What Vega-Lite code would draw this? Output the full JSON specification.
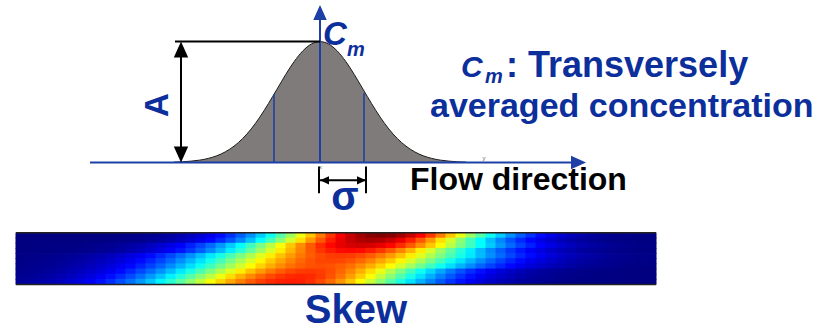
{
  "$schema": "https://vega.github.io/schema/vega-lite/v6.json",
  "width": 829,
  "height": 331,
  "autosize": {"type": "fit", "contains": "padding"},
  "padding": 0,
  "background": "white",
  "config": {"view": {"stroke": null}},
  "datasets": {
    "heat": [
      {"x":-29.9,"y":-7.36,"c":0},{"x":-28.9,"y":-7.36,"c":0},{"x":-27.9,"y":-7.36,"c":0},{"x":-26.9,"y":-7.36,"c":0},{"x":-25.9,"y":-7.36,"c":0},{"x":-24.9,"y":-7.36,"c":0},{"x":-23.9,"y":-7.36,"c":0.001},{"x":-22.9,"y":-7.36,"c":0.001},{"x":-21.9,"y":-7.36,"c":0.002},{"x":-20.9,"y":-7.36,"c":0.003},{"x":-19.9,"y":-7.36,"c":0.005},{"x":-18.9,"y":-7.36,"c":0.008},{"x":-17.9,"y":-7.36,"c":0.011},{"x":-16.9,"y":-7.36,"c":0.016},{"x":-15.9,"y":-7.36,"c":0.023},{"x":-14.9,"y":-7.36,"c":0.032},{"x":-13.9,"y":-7.36,"c":0.044},{"x":-12.9,"y":-7.36,"c":0.06},{"x":-11.9,"y":-7.36,"c":0.08},{"x":-10.9,"y":-7.36,"c":0.105},{"x":-9.9,"y":-7.36,"c":0.135},{"x":-8.9,"y":-7.36,"c":0.172},{"x":-7.9,"y":-7.36,"c":0.216},{"x":-6.9,"y":-7.36,"c":0.267},{"x":-5.9,"y":-7.36,"c":0.325},{"x":-4.9,"y":-7.36,"c":0.389},{"x":-3.9,"y":-7.36,"c":0.458},{"x":-2.9,"y":-7.36,"c":0.531},{"x":-1.9,"y":-7.36,"c":0.607},{"x":-0.9,"y":-7.36,"c":0.682},{"x":0.1,"y":-7.36,"c":0.755},{"x":1.1,"y":-7.36,"c":0.823},{"x":2.1,"y":-7.36,"c":0.882},{"x":3.1,"y":-7.36,"c":0.932},{"x":4.1,"y":-7.36,"c":0.969},{"x":5.1,"y":-7.36,"c":0.992},{"x":6.1,"y":-7.36,"c":1},{"x":7.1,"y":-7.36,"c":0.992},{"x":8.1,"y":-7.36,"c":0.969},{"x":9.1,"y":-7.36,"c":0.932},{"x":10.1,"y":-7.36,"c":0.882},{"x":11.1,"y":-7.36,"c":0.823},{"x":12.1,"y":-7.36,"c":0.755},{"x":13.1,"y":-7.36,"c":0.682},{"x":14.1,"y":-7.36,"c":0.607},{"x":15.1,"y":-7.36,"c":0.531},{"x":16.1,"y":-7.36,"c":0.458},{"x":17.1,"y":-7.36,"c":0.389},{"x":18.1,"y":-7.36,"c":0.325},{"x":19.1,"y":-7.36,"c":0.267},{"x":20.1,"y":-7.36,"c":0.216},{"x":21.1,"y":-7.36,"c":0.172},{"x":22.1,"y":-7.36,"c":0.135},{"x":23.1,"y":-7.36,"c":0.105},{"x":24.1,"y":-7.36,"c":0.08},{"x":25.1,"y":-7.36,"c":0.06},{"x":26.1,"y":-7.36,"c":0.044},{"x":27.1,"y":-7.36,"c":0.032},{"x":28.1,"y":-7.36,"c":0.023},{"x":29.1,"y":-7.36,"c":0.016},{"x":30.1,"y":-7.36,"c":0.011},{"x":31.1,"y":-7.36,"c":0.008},{"x":32.1,"y":-7.36,"c":0.005},{"x":33.1,"y":-7.36,"c":0.003},
      {"x":-29.9,"y":-7.88,"c":0},{"x":-28.9,"y":-7.88,"c":0},{"x":-27.9,"y":-7.88,"c":0},{"x":-26.9,"y":-7.88,"c":0},{"x":-25.9,"y":-7.88,"c":0},{"x":-24.9,"y":-7.88,"c":0.001},{"x":-23.9,"y":-7.88,"c":0.001},{"x":-22.9,"y":-7.88,"c":0.002},{"x":-21.9,"y":-7.88,"c":0.003},{"x":-20.9,"y":-7.88,"c":0.005},{"x":-19.9,"y":-7.88,"c":0.008},{"x":-18.9,"y":-7.88,"c":0.011},{"x":-17.9,"y":-7.88,"c":0.015},{"x":-16.9,"y":-7.88,"c":0.022},{"x":-15.9,"y":-7.88,"c":0.031},{"x":-14.9,"y":-7.88,"c":0.042},{"x":-13.9,"y":-7.88,"c":0.058},{"x":-12.9,"y":-7.88,"c":0.077},{"x":-11.9,"y":-7.88,"c":0.101},{"x":-10.9,"y":-7.88,"c":0.13},{"x":-9.9,"y":-7.88,"c":0.165},{"x":-8.9,"y":-7.88,"c":0.207},{"x":-7.9,"y":-7.88,"c":0.256},{"x":-6.9,"y":-7.88,"c":0.312},{"x":-5.9,"y":-7.88,"c":0.373},{"x":-4.9,"y":-7.88,"c":0.44},{"x":-3.9,"y":-7.88,"c":0.51},{"x":-2.9,"y":-7.88,"c":0.583},{"x":-1.9,"y":-7.88,"c":0.655},{"x":-0.9,"y":-7.88,"c":0.725},{"x":0.1,"y":-7.88,"c":0.79},{"x":1.1,"y":-7.88,"c":0.847},{"x":2.1,"y":-7.88,"c":0.895},{"x":3.1,"y":-7.88,"c":0.93},{"x":4.1,"y":-7.88,"c":0.952},{"x":5.1,"y":-7.88,"c":0.96},{"x":6.1,"y":-7.88,"c":0.952},{"x":7.1,"y":-7.88,"c":0.93},{"x":8.1,"y":-7.88,"c":0.895},{"x":9.1,"y":-7.88,"c":0.847},{"x":10.1,"y":-7.88,"c":0.79},{"x":11.1,"y":-7.88,"c":0.725},{"x":12.1,"y":-7.88,"c":0.655},{"x":13.1,"y":-7.88,"c":0.583},{"x":14.1,"y":-7.88,"c":0.51},{"x":15.1,"y":-7.88,"c":0.44},{"x":16.1,"y":-7.88,"c":0.373},{"x":17.1,"y":-7.88,"c":0.312},{"x":18.1,"y":-7.88,"c":0.256},{"x":19.1,"y":-7.88,"c":0.207},{"x":20.1,"y":-7.88,"c":0.165},{"x":21.1,"y":-7.88,"c":0.13},{"x":22.1,"y":-7.88,"c":0.101},{"x":23.1,"y":-7.88,"c":0.077},{"x":24.1,"y":-7.88,"c":0.058},{"x":25.1,"y":-7.88,"c":0.042},{"x":26.1,"y":-7.88,"c":0.031},{"x":27.1,"y":-7.88,"c":0.022},{"x":28.1,"y":-7.88,"c":0.015},{"x":29.1,"y":-7.88,"c":0.011},{"x":30.1,"y":-7.88,"c":0.008},{"x":31.1,"y":-7.88,"c":0.005},{"x":32.1,"y":-7.88,"c":0.003},{"x":33.1,"y":-7.88,"c":0.002},
      {"x":-29.9,"y":-8.4,"c":0},{"x":-28.9,"y":-8.4,"c":0.001},{"x":-27.9,"y":-8.4,"c":0.002},{"x":-26.9,"y":-8.4,"c":0.002},{"x":-25.9,"y":-8.4,"c":0.004},{"x":-24.9,"y":-8.4,"c":0.005},{"x":-23.9,"y":-8.4,"c":0.007},{"x":-22.9,"y":-8.4,"c":0.01},{"x":-21.9,"y":-8.4,"c":0.014},{"x":-20.9,"y":-8.4,"c":0.019},{"x":-19.9,"y":-8.4,"c":0.027},{"x":-18.9,"y":-8.4,"c":0.035},{"x":-17.9,"y":-8.4,"c":0.046},{"x":-16.9,"y":-8.4,"c":0.061},{"x":-15.9,"y":-8.4,"c":0.078},{"x":-14.9,"y":-8.4,"c":0.099},{"x":-13.9,"y":-8.4,"c":0.124},{"x":-12.9,"y":-8.4,"c":0.155},{"x":-11.9,"y":-8.4,"c":0.19},{"x":-10.9,"y":-8.4,"c":0.229},{"x":-9.9,"y":-8.4,"c":0.274},{"x":-8.9,"y":-8.4,"c":0.324},{"x":-7.9,"y":-8.4,"c":0.378},{"x":-6.9,"y":-8.4,"c":0.436},{"x":-5.9,"y":-8.4,"c":0.496},{"x":-4.9,"y":-8.4,"c":0.558},{"x":-3.9,"y":-8.4,"c":0.62},{"x":-2.9,"y":-8.4,"c":0.68},{"x":-1.9,"y":-8.4,"c":0.737},{"x":-0.9,"y":-8.4,"c":0.788},{"x":0.1,"y":-8.4,"c":0.834},{"x":1.1,"y":-8.4,"c":0.87},{"x":2.1,"y":-8.4,"c":0.898},{"x":3.1,"y":-8.4,"c":0.914},{"x":4.1,"y":-8.4,"c":0.92},{"x":5.1,"y":-8.4,"c":0.914},{"x":6.1,"y":-8.4,"c":0.898},{"x":7.1,"y":-8.4,"c":0.87},{"x":8.1,"y":-8.4,"c":0.834},{"x":9.1,"y":-8.4,"c":0.788},{"x":10.1,"y":-8.4,"c":0.737},{"x":11.1,"y":-8.4,"c":0.68},{"x":12.1,"y":-8.4,"c":0.62},{"x":13.1,"y":-8.4,"c":0.558},{"x":14.1,"y":-8.4,"c":0.496},{"x":15.1,"y":-8.4,"c":0.436},{"x":16.1,"y":-8.4,"c":0.378},{"x":17.1,"y":-8.4,"c":0.324},{"x":18.1,"y":-8.4,"c":0.274},{"x":19.1,"y":-8.4,"c":0.229},{"x":20.1,"y":-8.4,"c":0.19},{"x":21.1,"y":-8.4,"c":0.155},{"x":22.1,"y":-8.4,"c":0.124},{"x":23.1,"y":-8.4,"c":0.099},{"x":24.1,"y":-8.4,"c":0.078},{"x":25.1,"y":-8.4,"c":0.061},{"x":26.1,"y":-8.4,"c":0.046},{"x":27.1,"y":-8.4,"c":0.035},{"x":28.1,"y":-8.4,"c":0.027},{"x":29.1,"y":-8.4,"c":0.019},{"x":30.1,"y":-8.4,"c":0.014},{"x":31.1,"y":-8.4,"c":0.01},{"x":32.1,"y":-8.4,"c":0.007},{"x":33.1,"y":-8.4,"c":0.005},
      {"x":-29.9,"y":-8.92,"c":0.001},{"x":-28.9,"y":-8.92,"c":0.002},{"x":-27.9,"y":-8.92,"c":0.002},{"x":-26.9,"y":-8.92,"c":0.003},{"x":-25.9,"y":-8.92,"c":0.005},{"x":-24.9,"y":-8.92,"c":0.007},{"x":-23.9,"y":-8.92,"c":0.01},{"x":-22.9,"y":-8.92,"c":0.013},{"x":-21.9,"y":-8.92,"c":0.018},{"x":-20.9,"y":-8.92,"c":0.025},{"x":-19.9,"y":-8.92,"c":0.033},{"x":-18.9,"y":-8.92,"c":0.044},{"x":-17.9,"y":-8.92,"c":0.057},{"x":-16.9,"y":-8.92,"c":0.074},{"x":-15.9,"y":-8.92,"c":0.094},{"x":-14.9,"y":-8.92,"c":0.117},{"x":-13.9,"y":-8.92,"c":0.146},{"x":-12.9,"y":-8.92,"c":0.179},{"x":-11.9,"y":-8.92,"c":0.217},{"x":-10.9,"y":-8.92,"c":0.259},{"x":-9.9,"y":-8.92,"c":0.306},{"x":-8.9,"y":-8.92,"c":0.358},{"x":-7.9,"y":-8.92,"c":0.412},{"x":-6.9,"y":-8.92,"c":0.469},{"x":-5.9,"y":-8.92,"c":0.528},{"x":-4.9,"y":-8.92,"c":0.586},{"x":-3.9,"y":-8.92,"c":0.643},{"x":-2.9,"y":-8.92,"c":0.697},{"x":-1.9,"y":-8.92,"c":0.746},{"x":-0.9,"y":-8.92,"c":0.788},{"x":0.1,"y":-8.92,"c":0.823},{"x":1.1,"y":-8.92,"c":0.849},{"x":2.1,"y":-8.92,"c":0.865},{"x":3.1,"y":-8.92,"c":0.87},{"x":4.1,"y":-8.92,"c":0.865},{"x":5.1,"y":-8.92,"c":0.849},{"x":6.1,"y":-8.92,"c":0.823},{"x":7.1,"y":-8.92,"c":0.788},{"x":8.1,"y":-8.92,"c":0.746},{"x":9.1,"y":-8.92,"c":0.697},{"x":10.1,"y":-8.92,"c":0.643},{"x":11.1,"y":-8.92,"c":0.586},{"x":12.1,"y":-8.92,"c":0.528},{"x":13.1,"y":-8.92,"c":0.469},{"x":14.1,"y":-8.92,"c":0.412},{"x":15.1,"y":-8.92,"c":0.358},{"x":16.1,"y":-8.92,"c":0.306},{"x":17.1,"y":-8.92,"c":0.259},{"x":18.1,"y":-8.92,"c":0.217},{"x":19.1,"y":-8.92,"c":0.179},{"x":20.1,"y":-8.92,"c":0.146},{"x":21.1,"y":-8.92,"c":0.117},{"x":22.1,"y":-8.92,"c":0.094},{"x":23.1,"y":-8.92,"c":0.074},{"x":24.1,"y":-8.92,"c":0.057},{"x":25.1,"y":-8.92,"c":0.044},{"x":26.1,"y":-8.92,"c":0.033},{"x":27.1,"y":-8.92,"c":0.025},{"x":28.1,"y":-8.92,"c":0.018},{"x":29.1,"y":-8.92,"c":0.013},{"x":30.1,"y":-8.92,"c":0.01},{"x":31.1,"y":-8.92,"c":0.007},{"x":32.1,"y":-8.92,"c":0.005},{"x":33.1,"y":-8.92,"c":0.003},
      {"x":-29.9,"y":-9.44,"c":0.005},{"x":-28.9,"y":-9.44,"c":0.007},{"x":-27.9,"y":-9.44,"c":0.009},{"x":-26.9,"y":-9.44,"c":0.012},{"x":-25.9,"y":-9.44,"c":0.016},{"x":-24.9,"y":-9.44,"c":0.021},{"x":-23.9,"y":-9.44,"c":0.028},{"x":-22.9,"y":-9.44,"c":0.036},{"x":-21.9,"y":-9.44,"c":0.046},{"x":-20.9,"y":-9.44,"c":0.058},{"x":-19.9,"y":-9.44,"c":0.073},{"x":-18.9,"y":-9.44,"c":0.09},{"x":-17.9,"y":-9.44,"c":0.111},{"x":-16.9,"y":-9.44,"c":0.134},{"x":-15.9,"y":-9.44,"c":0.162},{"x":-14.9,"y":-9.44,"c":0.194},{"x":-13.9,"y":-9.44,"c":0.228},{"x":-12.9,"y":-9.44,"c":0.267},{"x":-11.9,"y":-9.44,"c":0.308},{"x":-10.9,"y":-9.44,"c":0.353},{"x":-9.9,"y":-9.44,"c":0.399},{"x":-8.9,"y":-9.44,"c":0.448},{"x":-7.9,"y":-9.44,"c":0.498},{"x":-6.9,"y":-9.44,"c":0.547},{"x":-5.9,"y":-9.44,"c":0.595},{"x":-4.9,"y":-9.44,"c":0.642},{"x":-3.9,"y":-9.44,"c":0.685},{"x":-2.9,"y":-9.44,"c":0.723},{"x":-1.9,"y":-9.44,"c":0.757},{"x":-0.9,"y":-9.44,"c":0.784},{"x":0.1,"y":-9.44,"c":0.804},{"x":1.1,"y":-9.44,"c":0.816},{"x":2.1,"y":-9.44,"c":0.82},{"x":3.1,"y":-9.44,"c":0.816},{"x":4.1,"y":-9.44,"c":0.804},{"x":5.1,"y":-9.44,"c":0.784},{"x":6.1,"y":-9.44,"c":0.757},{"x":7.1,"y":-9.44,"c":0.723},{"x":8.1,"y":-9.44,"c":0.685},{"x":9.1,"y":-9.44,"c":0.642},{"x":10.1,"y":-9.44,"c":0.595},{"x":11.1,"y":-9.44,"c":0.547},{"x":12.1,"y":-9.44,"c":0.498},{"x":13.1,"y":-9.44,"c":0.448},{"x":14.1,"y":-9.44,"c":0.399},{"x":15.1,"y":-9.44,"c":0.353},{"x":16.1,"y":-9.44,"c":0.308},{"x":17.1,"y":-9.44,"c":0.267},{"x":18.1,"y":-9.44,"c":0.228},{"x":19.1,"y":-9.44,"c":0.194},{"x":20.1,"y":-9.44,"c":0.162},{"x":21.1,"y":-9.44,"c":0.134},{"x":22.1,"y":-9.44,"c":0.111},{"x":23.1,"y":-9.44,"c":0.09},{"x":24.1,"y":-9.44,"c":0.073},{"x":25.1,"y":-9.44,"c":0.058},{"x":26.1,"y":-9.44,"c":0.046},{"x":27.1,"y":-9.44,"c":0.036},{"x":28.1,"y":-9.44,"c":0.028},{"x":29.1,"y":-9.44,"c":0.021},{"x":30.1,"y":-9.44,"c":0.016},{"x":31.1,"y":-9.44,"c":0.012},{"x":32.1,"y":-9.44,"c":0.009},{"x":33.1,"y":-9.44,"c":0.007},
      {"x":-29.9,"y":-9.96,"c":0.006},{"x":-28.9,"y":-9.96,"c":0.009},{"x":-27.9,"y":-9.96,"c":0.012},{"x":-26.9,"y":-9.96,"c":0.016},{"x":-25.9,"y":-9.96,"c":0.021},{"x":-24.9,"y":-9.96,"c":0.028},{"x":-23.9,"y":-9.96,"c":0.036},{"x":-22.9,"y":-9.96,"c":0.045},{"x":-21.9,"y":-9.96,"c":0.058},{"x":-20.9,"y":-9.96,"c":0.072},{"x":-19.9,"y":-9.96,"c":0.089},{"x":-18.9,"y":-9.96,"c":0.109},{"x":-17.9,"y":-9.96,"c":0.133},{"x":-16.9,"y":-9.96,"c":0.16},{"x":-15.9,"y":-9.96,"c":0.191},{"x":-14.9,"y":-9.96,"c":0.225},{"x":-13.9,"y":-9.96,"c":0.263},{"x":-12.9,"y":-9.96,"c":0.304},{"x":-11.9,"y":-9.96,"c":0.348},{"x":-10.9,"y":-9.96,"c":0.394},{"x":-9.9,"y":-9.96,"c":0.442},{"x":-8.9,"y":-9.96,"c":0.492},{"x":-7.9,"y":-9.96,"c":0.54},{"x":-6.9,"y":-9.96,"c":0.588},{"x":-5.9,"y":-9.96,"c":0.634},{"x":-4.9,"y":-9.96,"c":0.676},{"x":-3.9,"y":-9.96,"c":0.714},{"x":-2.9,"y":-9.96,"c":0.748},{"x":-1.9,"y":-9.96,"c":0.774},{"x":-0.9,"y":-9.96,"c":0.794},{"x":0.1,"y":-9.96,"c":0.806},{"x":1.1,"y":-9.96,"c":0.81},{"x":2.1,"y":-9.96,"c":0.806},{"x":3.1,"y":-9.96,"c":0.794},{"x":4.1,"y":-9.96,"c":0.774},{"x":5.1,"y":-9.96,"c":0.748},{"x":6.1,"y":-9.96,"c":0.714},{"x":7.1,"y":-9.96,"c":0.676},{"x":8.1,"y":-9.96,"c":0.634},{"x":9.1,"y":-9.96,"c":0.588},{"x":10.1,"y":-9.96,"c":0.54},{"x":11.1,"y":-9.96,"c":0.492},{"x":12.1,"y":-9.96,"c":0.442},{"x":13.1,"y":-9.96,"c":0.394},{"x":14.1,"y":-9.96,"c":0.348},{"x":15.1,"y":-9.96,"c":0.304},{"x":16.1,"y":-9.96,"c":0.263},{"x":17.1,"y":-9.96,"c":0.225},{"x":18.1,"y":-9.96,"c":0.191},{"x":19.1,"y":-9.96,"c":0.16},{"x":20.1,"y":-9.96,"c":0.133},{"x":21.1,"y":-9.96,"c":0.109},{"x":22.1,"y":-9.96,"c":0.089},{"x":23.1,"y":-9.96,"c":0.072},{"x":24.1,"y":-9.96,"c":0.058},{"x":25.1,"y":-9.96,"c":0.045},{"x":26.1,"y":-9.96,"c":0.036},{"x":27.1,"y":-9.96,"c":0.028},{"x":28.1,"y":-9.96,"c":0.021},{"x":29.1,"y":-9.96,"c":0.016},{"x":30.1,"y":-9.96,"c":0.012},{"x":31.1,"y":-9.96,"c":0.009},{"x":32.1,"y":-9.96,"c":0.006},{"x":33.1,"y":-9.96,"c":0.005},
      {"x":-29.9,"y":-10.48,"c":0.009},{"x":-28.9,"y":-10.48,"c":0.012},{"x":-27.9,"y":-10.48,"c":0.016},{"x":-26.9,"y":-10.48,"c":0.021},{"x":-25.9,"y":-10.48,"c":0.027},{"x":-24.9,"y":-10.48,"c":0.035},{"x":-23.9,"y":-10.48,"c":0.045},{"x":-22.9,"y":-10.48,"c":0.057},{"x":-21.9,"y":-10.48,"c":0.071},{"x":-20.9,"y":-10.48,"c":0.088},{"x":-19.9,"y":-10.48,"c":0.108},{"x":-18.9,"y":-10.48,"c":0.131},{"x":-17.9,"y":-10.48,"c":0.158},{"x":-16.9,"y":-10.48,"c":0.189},{"x":-15.9,"y":-10.48,"c":0.222},{"x":-14.9,"y":-10.48,"c":0.26},{"x":-13.9,"y":-10.48,"c":0.3},{"x":-12.9,"y":-10.48,"c":0.344},{"x":-11.9,"y":-10.48,"c":0.39},{"x":-10.9,"y":-10.48,"c":0.437},{"x":-9.9,"y":-10.48,"c":0.486},{"x":-8.9,"y":-10.48,"c":0.534},{"x":-7.9,"y":-10.48,"c":0.581},{"x":-6.9,"y":-10.48,"c":0.626},{"x":-5.9,"y":-10.48,"c":0.668},{"x":-4.9,"y":-10.48,"c":0.706},{"x":-3.9,"y":-10.48,"c":0.738},{"x":-2.9,"y":-10.48,"c":0.765},{"x":-1.9,"y":-10.48,"c":0.784},{"x":-0.9,"y":-10.48,"c":0.796},{"x":0.1,"y":-10.48,"c":0.8},{"x":1.1,"y":-10.48,"c":0.796},{"x":2.1,"y":-10.48,"c":0.784},{"x":3.1,"y":-10.48,"c":0.765},{"x":4.1,"y":-10.48,"c":0.738},{"x":5.1,"y":-10.48,"c":0.706},{"x":6.1,"y":-10.48,"c":0.668},{"x":7.1,"y":-10.48,"c":0.626},{"x":8.1,"y":-10.48,"c":0.581},{"x":9.1,"y":-10.48,"c":0.534},{"x":10.1,"y":-10.48,"c":0.486},{"x":11.1,"y":-10.48,"c":0.437},{"x":12.1,"y":-10.48,"c":0.39},{"x":13.1,"y":-10.48,"c":0.344},{"x":14.1,"y":-10.48,"c":0.3},{"x":15.1,"y":-10.48,"c":0.26},{"x":16.1,"y":-10.48,"c":0.222},{"x":17.1,"y":-10.48,"c":0.189},{"x":18.1,"y":-10.48,"c":0.158},{"x":19.1,"y":-10.48,"c":0.131},{"x":20.1,"y":-10.48,"c":0.108},{"x":21.1,"y":-10.48,"c":0.088},{"x":22.1,"y":-10.48,"c":0.071},{"x":23.1,"y":-10.48,"c":0.057},{"x":24.1,"y":-10.48,"c":0.045},{"x":25.1,"y":-10.48,"c":0.035},{"x":26.1,"y":-10.48,"c":0.027},{"x":27.1,"y":-10.48,"c":0.021},{"x":28.1,"y":-10.48,"c":0.016},{"x":29.1,"y":-10.48,"c":0.012},{"x":30.1,"y":-10.48,"c":0.009},{"x":31.1,"y":-10.48,"c":0.006},{"x":32.1,"y":-10.48,"c":0.005},{"x":33.1,"y":-10.48,"c":0.003},
      {"x":-29.9,"y":-11.0,"c":0.012},{"x":-28.9,"y":-11.0,"c":0.016},{"x":-27.9,"y":-11.0,"c":0.021},{"x":-26.9,"y":-11.0,"c":0.028},{"x":-25.9,"y":-11.0,"c":0.036},{"x":-24.9,"y":-11.0,"c":0.046},{"x":-23.9,"y":-11.0,"c":0.058},{"x":-22.9,"y":-11.0,"c":0.073},{"x":-21.9,"y":-11.0,"c":0.09},{"x":-20.9,"y":-11.0,"c":0.111},{"x":-19.9,"y":-11.0,"c":0.134},{"x":-18.9,"y":-11.0,"c":0.162},{"x":-17.9,"y":-11.0,"c":0.194},{"x":-16.9,"y":-11.0,"c":0.228},{"x":-15.9,"y":-11.0,"c":0.267},{"x":-14.9,"y":-11.0,"c":0.308},{"x":-13.9,"y":-11.0,"c":0.353},{"x":-12.9,"y":-11.0,"c":0.399},{"x":-11.9,"y":-11.0,"c":0.448},{"x":-10.9,"y":-11.0,"c":0.498},{"x":-9.9,"y":-11.0,"c":0.547},{"x":-8.9,"y":-11.0,"c":0.595},{"x":-7.9,"y":-11.0,"c":0.642},{"x":-6.9,"y":-11.0,"c":0.685},{"x":-5.9,"y":-11.0,"c":0.723},{"x":-4.9,"y":-11.0,"c":0.757},{"x":-3.9,"y":-11.0,"c":0.784},{"x":-2.9,"y":-11.0,"c":0.804},{"x":-1.9,"y":-11.0,"c":0.816},{"x":-0.9,"y":-11.0,"c":0.82},{"x":0.1,"y":-11.0,"c":0.815},{"x":1.1,"y":-11.0,"c":0.8},{"x":2.1,"y":-11.0,"c":0.776},{"x":3.1,"y":-11.0,"c":0.743},{"x":4.1,"y":-11.0,"c":0.703},{"x":5.1,"y":-11.0,"c":0.657},{"x":6.1,"y":-11.0,"c":0.606},{"x":7.1,"y":-11.0,"c":0.553},{"x":8.1,"y":-11.0,"c":0.498},{"x":9.1,"y":-11.0,"c":0.442},{"x":10.1,"y":-11.0,"c":0.389},{"x":11.1,"y":-11.0,"c":0.337},{"x":12.1,"y":-11.0,"c":0.289},{"x":13.1,"y":-11.0,"c":0.244},{"x":14.1,"y":-11.0,"c":0.204},{"x":15.1,"y":-11.0,"c":0.169},{"x":16.1,"y":-11.0,"c":0.138},{"x":17.1,"y":-11.0,"c":0.111},{"x":18.1,"y":-11.0,"c":0.089},{"x":19.1,"y":-11.0,"c":0.07},{"x":20.1,"y":-11.0,"c":0.054},{"x":21.1,"y":-11.0,"c":0.041},{"x":22.1,"y":-11.0,"c":0.031},{"x":23.1,"y":-11.0,"c":0.024},{"x":24.1,"y":-11.0,"c":0.017},{"x":25.1,"y":-11.0,"c":0.012},{"x":26.1,"y":-11.0,"c":0.009},{"x":27.1,"y":-11.0,"c":0.007},{"x":28.1,"y":-11.0,"c":0.005},{"x":29.1,"y":-11.0,"c":0.003},{"x":30.1,"y":-11.0,"c":0.002},{"x":31.1,"y":-11.0,"c":0.001},{"x":32.1,"y":-11.0,"c":0.001},{"x":33.1,"y":-11.0,"c":0.001},
      {"x":-29.9,"y":-11.52,"c":0.017},{"x":-28.9,"y":-11.52,"c":0.022},{"x":-27.9,"y":-11.52,"c":0.029},{"x":-26.9,"y":-11.52,"c":0.037},{"x":-25.9,"y":-11.52,"c":0.047},{"x":-24.9,"y":-11.52,"c":0.06},{"x":-23.9,"y":-11.52,"c":0.075},{"x":-22.9,"y":-11.52,"c":0.092},{"x":-21.9,"y":-11.52,"c":0.113},{"x":-20.9,"y":-11.52,"c":0.138},{"x":-19.9,"y":-11.52,"c":0.166},{"x":-18.9,"y":-11.52,"c":0.198},{"x":-17.9,"y":-11.52,"c":0.234},{"x":-16.9,"y":-11.52,"c":0.273},{"x":-15.9,"y":-11.52,"c":0.315},{"x":-14.9,"y":-11.52,"c":0.361},{"x":-13.9,"y":-11.52,"c":0.409},{"x":-12.9,"y":-11.52,"c":0.459},{"x":-11.9,"y":-11.52,"c":0.51},{"x":-10.9,"y":-11.52,"c":0.56},{"x":-9.9,"y":-11.52,"c":0.61},{"x":-8.9,"y":-11.52,"c":0.658},{"x":-7.9,"y":-11.52,"c":0.701},{"x":-6.9,"y":-11.52,"c":0.741},{"x":-5.9,"y":-11.52,"c":0.775},{"x":-4.9,"y":-11.52,"c":0.803},{"x":-3.9,"y":-11.52,"c":0.823},{"x":-2.9,"y":-11.52,"c":0.836},{"x":-1.9,"y":-11.52,"c":0.84},{"x":-0.9,"y":-11.52,"c":0.835},{"x":0.1,"y":-11.52,"c":0.82},{"x":1.1,"y":-11.52,"c":0.795},{"x":2.1,"y":-11.52,"c":0.761},{"x":3.1,"y":-11.52,"c":0.72},{"x":4.1,"y":-11.52,"c":0.673},{"x":5.1,"y":-11.52,"c":0.621},{"x":6.1,"y":-11.52,"c":0.566},{"x":7.1,"y":-11.52,"c":0.51},{"x":8.1,"y":-11.52,"c":0.453},{"x":9.1,"y":-11.52,"c":0.398},{"x":10.1,"y":-11.52,"c":0.345},{"x":11.1,"y":-11.52,"c":0.296},{"x":12.1,"y":-11.52,"c":0.25},{"x":13.1,"y":-11.52,"c":0.209},{"x":14.1,"y":-11.52,"c":0.173},{"x":15.1,"y":-11.52,"c":0.141},{"x":16.1,"y":-11.52,"c":0.113},{"x":17.1,"y":-11.52,"c":0.091},{"x":18.1,"y":-11.52,"c":0.071},{"x":19.1,"y":-11.52,"c":0.055},{"x":20.1,"y":-11.52,"c":0.042},{"x":21.1,"y":-11.52,"c":0.032},{"x":22.1,"y":-11.52,"c":0.024},{"x":23.1,"y":-11.52,"c":0.018},{"x":24.1,"y":-11.52,"c":0.013},{"x":25.1,"y":-11.52,"c":0.009},{"x":26.1,"y":-11.52,"c":0.007},{"x":27.1,"y":-11.52,"c":0.005},{"x":28.1,"y":-11.52,"c":0.003},{"x":29.1,"y":-11.52,"c":0.002},{"x":30.1,"y":-11.52,"c":0.002},{"x":31.1,"y":-11.52,"c":0.001},{"x":32.1,"y":-11.52,"c":0.001},{"x":33.1,"y":-11.52,"c":0.001},
      {"x":-29.9,"y":-12.04,"c":0.022},{"x":-28.9,"y":-12.04,"c":0.029},{"x":-27.9,"y":-12.04,"c":0.037},{"x":-26.9,"y":-12.04,"c":0.048},{"x":-25.9,"y":-12.04,"c":0.06},{"x":-24.9,"y":-12.04,"c":0.076},{"x":-23.9,"y":-12.04,"c":0.094},{"x":-22.9,"y":-12.04,"c":0.115},{"x":-21.9,"y":-12.04,"c":0.139},{"x":-20.9,"y":-12.04,"c":0.168},{"x":-19.9,"y":-12.04,"c":0.201},{"x":-18.9,"y":-12.04,"c":0.236},{"x":-17.9,"y":-12.04,"c":0.276},{"x":-16.9,"y":-12.04,"c":0.319},{"x":-15.9,"y":-12.04,"c":0.366},{"x":-14.9,"y":-12.04,"c":0.414},{"x":-13.9,"y":-12.04,"c":0.464},{"x":-12.9,"y":-12.04,"c":0.516},{"x":-11.9,"y":-12.04,"c":0.567},{"x":-10.9,"y":-12.04,"c":0.617},{"x":-9.9,"y":-12.04,"c":0.666},{"x":-8.9,"y":-12.04,"c":0.71},{"x":-7.9,"y":-12.04,"c":0.75},{"x":-6.9,"y":-12.04,"c":0.785},{"x":-5.9,"y":-12.04,"c":0.813},{"x":-4.9,"y":-12.04,"c":0.833},{"x":-3.9,"y":-12.04,"c":0.846},{"x":-2.9,"y":-12.04,"c":0.85},{"x":-1.9,"y":-12.04,"c":0.845},{"x":-0.9,"y":-12.04,"c":0.83},{"x":0.1,"y":-12.04,"c":0.804},{"x":1.1,"y":-12.04,"c":0.77},{"x":2.1,"y":-12.04,"c":0.728},{"x":3.1,"y":-12.04,"c":0.681},{"x":4.1,"y":-12.04,"c":0.628},{"x":5.1,"y":-12.04,"c":0.573},{"x":6.1,"y":-12.04,"c":0.516},{"x":7.1,"y":-12.04,"c":0.458},{"x":8.1,"y":-12.04,"c":0.403},{"x":9.1,"y":-12.04,"c":0.349},{"x":10.1,"y":-12.04,"c":0.299},{"x":11.1,"y":-12.04,"c":0.253},{"x":12.1,"y":-12.04,"c":0.212},{"x":13.1,"y":-12.04,"c":0.175},{"x":14.1,"y":-12.04,"c":0.143},{"x":15.1,"y":-12.04,"c":0.115},{"x":16.1,"y":-12.04,"c":0.092},{"x":17.1,"y":-12.04,"c":0.072},{"x":18.1,"y":-12.04,"c":0.056},{"x":19.1,"y":-12.04,"c":0.043},{"x":20.1,"y":-12.04,"c":0.032},{"x":21.1,"y":-12.04,"c":0.025},{"x":22.1,"y":-12.04,"c":0.018},{"x":23.1,"y":-12.04,"c":0.013},{"x":24.1,"y":-12.04,"c":0.009},{"x":25.1,"y":-12.04,"c":0.007},{"x":26.1,"y":-12.04,"c":0.005},{"x":27.1,"y":-12.04,"c":0.003},{"x":28.1,"y":-12.04,"c":0.002},{"x":29.1,"y":-12.04,"c":0.002},{"x":30.1,"y":-12.04,"c":0.001},{"x":31.1,"y":-12.04,"c":0.001},{"x":32.1,"y":-12.04,"c":0.001},{"x":33.1,"y":-12.04,"c":0.001}
    ],
    "strip": [
      {"x": -30.4, "y": -7.1, "x2": 33.6, "y2": -7.1},
      {"x": -30.4, "y": -12.3, "x2": 33.6, "y2": -12.3}
    ],
    "curve": [
      {"x": -14.62, "y": 0.04}, {"x": -13.76, "y": 0.07}, {"x": -12.9, "y": 0.14}, {"x": -12.04, "y": 0.24},
      {"x": -11.18, "y": 0.41}, {"x": -10.32, "y": 0.68}, {"x": -9.46, "y": 1.08}, {"x": -8.6, "y": 1.65},
      {"x": -7.74, "y": 2.41}, {"x": -6.88, "y": 3.39}, {"x": -6.02, "y": 4.58}, {"x": -5.16, "y": 5.94},
      {"x": -4.3, "y": 7.4}, {"x": -3.44, "y": 8.86}, {"x": -2.58, "y": 10.19}, {"x": -1.72, "y": 11.26},
      {"x": -0.86, "y": 11.96}, {"x": 0, "y": 12.2}, {"x": 0.86, "y": 11.96}, {"x": 1.72, "y": 11.26},
      {"x": 2.58, "y": 10.19}, {"x": 3.44, "y": 8.86}, {"x": 4.3, "y": 7.4}, {"x": 5.16, "y": 5.94},
      {"x": 6.02, "y": 4.58}, {"x": 6.88, "y": 3.39}, {"x": 7.74, "y": 2.41}, {"x": 8.6, "y": 1.65},
      {"x": 9.46, "y": 1.08}, {"x": 10.32, "y": 0.68}, {"x": 11.18, "y": 0.41}, {"x": 12.04, "y": 0.24},
      {"x": 12.9, "y": 0.14}, {"x": 13.76, "y": 0.07}, {"x": 14.62, "y": 0.04}
    ],
    "sigmaLines": [
      {"x": -4.6, "y": 0, "x2": -4.6, "y2": 6.9},
      {"x": 4.4, "y": 0, "x2": 4.4, "y2": 7.0}
    ],
    "axes": [
      {"x": -23, "y": 0, "x2": 25.2, "y2": 0},
      {"x": 0, "y": 0, "x2": 0, "y2": 14.6}
    ],
    "dims": [
      {"x": -14.5, "y": 12.2, "x2": 0, "y2": 12.2},
      {"x": -13.9, "y": 0.4, "x2": -13.9, "y2": 11.8},
      {"x": -0.1, "y": -0.4, "x2": -0.1, "y2": -3.1},
      {"x": 4.6, "y": -0.4, "x2": 4.6, "y2": -3.1},
      {"x": 0, "y": -1.8, "x2": 4.6, "y2": -1.8}
    ],
    "headsAxis": [
      {"x": 0, "y": 15.15, "dir": "up"},
      {"x": 25.85, "y": 0, "dir": "right"}
    ],
    "headsDim": [
      {"x": -13.9, "y": 11.4, "dir": "up"},
      {"x": -13.9, "y": 0.8, "dir": "down"}
    ],
    "headsSigma": [
      {"x": 0.45, "y": -1.8, "dir": "left"},
      {"x": 4.15, "y": -1.8, "dir": "right"}
    ]
  },
  "encoding": {
    "x": {"field": "x", "type": "quantitative", "scale": {"domain": [-32, 50.9], "nice": false, "zero": false}, "axis": null},
    "y": {"field": "y", "type": "quantitative", "scale": {"domain": [-16.7, 16.4], "nice": false, "zero": false}, "axis": null}
  },
  "layer": [
    {
      "data": {"name": "heat"},
      "mark": {"type": "rect", "width": 11, "height": 5.9},
      "encoding": {
        "color": {"field": "c", "type": "quantitative",
          "scale": {"domain": [0, 0.125, 0.375, 0.625, 0.875, 1], "range": ["#000080", "#0000ff", "#00ffff", "#ffff00", "#ff0000", "#800000"], "interpolate": "rgb"},
          "legend": null}
      }
    },
    {
      "data": {"name": "strip"},
      "mark": {"type": "rule", "color": "#222222", "strokeWidth": 1.5},
      "encoding": {"x2": {"field": "x2"}, "y2": {"field": "y2"}}
    },
    {
      "data": {"name": "curve"},
      "mark": {"type": "area", "color": "#7f7b7b", "opacity": 1, "interpolate": "monotone", "line": {"color": "#1a1a1a", "strokeWidth": 1}},
      "encoding": {"y2": {"datum": 0}}
    },
    {
      "data": {"name": "sigmaLines"},
      "mark": {"type": "rule", "color": "#1d3fa6", "strokeWidth": 1.6},
      "encoding": {"x2": {"field": "x2"}, "y2": {"field": "y2"}}
    },
    {
      "data": {"name": "axes"},
      "mark": {"type": "rule", "color": "#1d3fa6", "strokeWidth": 2},
      "encoding": {"x2": {"field": "x2"}, "y2": {"field": "y2"}}
    },
    {
      "data": {"name": "dims"},
      "mark": {"type": "rule", "color": "#000000", "strokeWidth": 2},
      "encoding": {"x2": {"field": "x2"}, "y2": {"field": "y2"}}
    },
    {
      "data": {"name": "headsAxis"},
      "mark": {"type": "point", "filled": true, "opacity": 1, "color": "#1d3fa6", "size": 225, "strokeWidth": 0},
      "encoding": {"shape": {"field": "dir", "type": "nominal", "scale": {"domain": ["up", "down", "left", "right"], "range": ["M0,-1L0.9,1L-0.9,1Z", "M0,1L0.9,-1L-0.9,-1Z", "M-1,0L1,-0.9L1,0.9Z", "M1,0L-1,-0.9L-1,0.9Z"]}, "legend": null}}
    },
    {
      "data": {"name": "headsDim"},
      "mark": {"type": "point", "filled": true, "opacity": 1, "color": "#000000", "size": 256, "strokeWidth": 0},
      "encoding": {"shape": {"field": "dir", "type": "nominal", "scale": {"domain": ["up", "down", "left", "right"], "range": ["M0,-1L0.9,1L-0.9,1Z", "M0,1L0.9,-1L-0.9,-1Z", "M-1,0L1,-0.9L1,0.9Z", "M1,0L-1,-0.9L-1,0.9Z"]}, "legend": null}}
    },
    {
      "data": {"name": "headsSigma"},
      "mark": {"type": "point", "filled": true, "opacity": 1, "color": "#000000", "size": 81, "strokeWidth": 0},
      "encoding": {"shape": {"field": "dir", "type": "nominal", "scale": {"domain": ["up", "down", "left", "right"], "range": ["M0,-1L0.9,1L-0.9,1Z", "M0,1L0.9,-1L-0.9,-1Z", "M-1,0L1,-0.9L1,0.9Z", "M1,0L-1,-0.9L-1,0.9Z"]}, "legend": null}}
    },
    {
      "data": {"values": [{"x": -16.2, "y": 5.8, "t": "A"}]},
      "mark": {"type": "text", "angle": 270, "align": "center", "baseline": "middle", "font": "Liberation Sans", "fontWeight": "bold", "fontSize": 33, "color": "#0c2f9c"},
      "encoding": {"text": {"field": "t"}}
    },
    {
      "data": {"values": [{"x": 0.3, "y": 11.9, "t": "C"}]},
      "mark": {"type": "text", "align": "left", "baseline": "alphabetic", "font": "Liberation Sans", "fontWeight": "bold", "fontStyle": "italic", "fontSize": 33, "color": "#0c2f9c"},
      "encoding": {"text": {"field": "t"}}
    },
    {
      "data": {"values": [{"x": 14.1, "y": 8.6, "t": "C"}]},
      "mark": {"type": "text", "align": "left", "baseline": "alphabetic", "font": "Liberation Sans", "fontWeight": "bold", "fontStyle": "italic", "fontSize": 30, "color": "#0c2f9c"},
      "encoding": {"text": {"field": "t"}}
    },
    {
      "data": {"values": [{"x": 2.7, "y": 10.7, "t": "m"}, {"x": 16.5, "y": 8.0, "t": "m"}]},
      "mark": {"type": "text", "align": "left", "baseline": "alphabetic", "font": "Liberation Sans", "fontWeight": "bold", "fontStyle": "italic", "fontSize": 20, "color": "#0c2f9c"},
      "encoding": {"text": {"field": "t"}}
    },
    {
      "data": {"values": [{"x": 18.6, "y": 8.6, "t": ": Transversely"}]},
      "mark": {"type": "text", "align": "left", "baseline": "alphabetic", "font": "Liberation Sans", "fontWeight": "bold", "fontSize": 36, "color": "#0c2f9c"},
      "encoding": {"text": {"field": "t"}}
    },
    {
      "data": {"values": [{"x": 11.0, "y": 4.6, "t": "averaged concentration"}]},
      "mark": {"type": "text", "align": "left", "baseline": "alphabetic", "font": "Liberation Sans", "fontWeight": "bold", "fontSize": 34, "color": "#0c2f9c"},
      "encoding": {"text": {"field": "t"}}
    },
    {
      "data": {"values": [{"x": 9.0, "y": -2.8, "t": "Flow direction"}]},
      "mark": {"type": "text", "align": "left", "baseline": "alphabetic", "font": "Liberation Sans", "fontWeight": "bold", "fontSize": 32, "color": "#000000"},
      "encoding": {"text": {"field": "t"}}
    },
    {
      "data": {"values": [{"x": 2.5, "y": -4.8, "t": "σ"}]},
      "mark": {"type": "text", "align": "center", "baseline": "alphabetic", "font": "Liberation Sans", "fontWeight": "bold", "fontSize": 40, "color": "#0c2f9c"},
      "encoding": {"text": {"field": "t"}}
    },
    {
      "data": {"values": [{"x": 0.05, "y": -0.5, "t": "x"}, {"x": 16.4, "y": 0.45, "t": "y"}]},
      "mark": {"type": "text", "align": "center", "baseline": "middle", "font": "Liberation Sans", "fontSize": 6, "color": "#666666"},
      "encoding": {"text": {"field": "t"}}
    },
    {
      "data": {"values": [{"x": 3.6, "y": -16.2, "t": "Skew"}]},
      "mark": {"type": "text", "align": "center", "baseline": "alphabetic", "font": "Liberation Sans", "fontWeight": "bold", "fontSize": 40, "color": "#0c2f9c"},
      "encoding": {"text": {"field": "t"}}
    }
  ]
}
